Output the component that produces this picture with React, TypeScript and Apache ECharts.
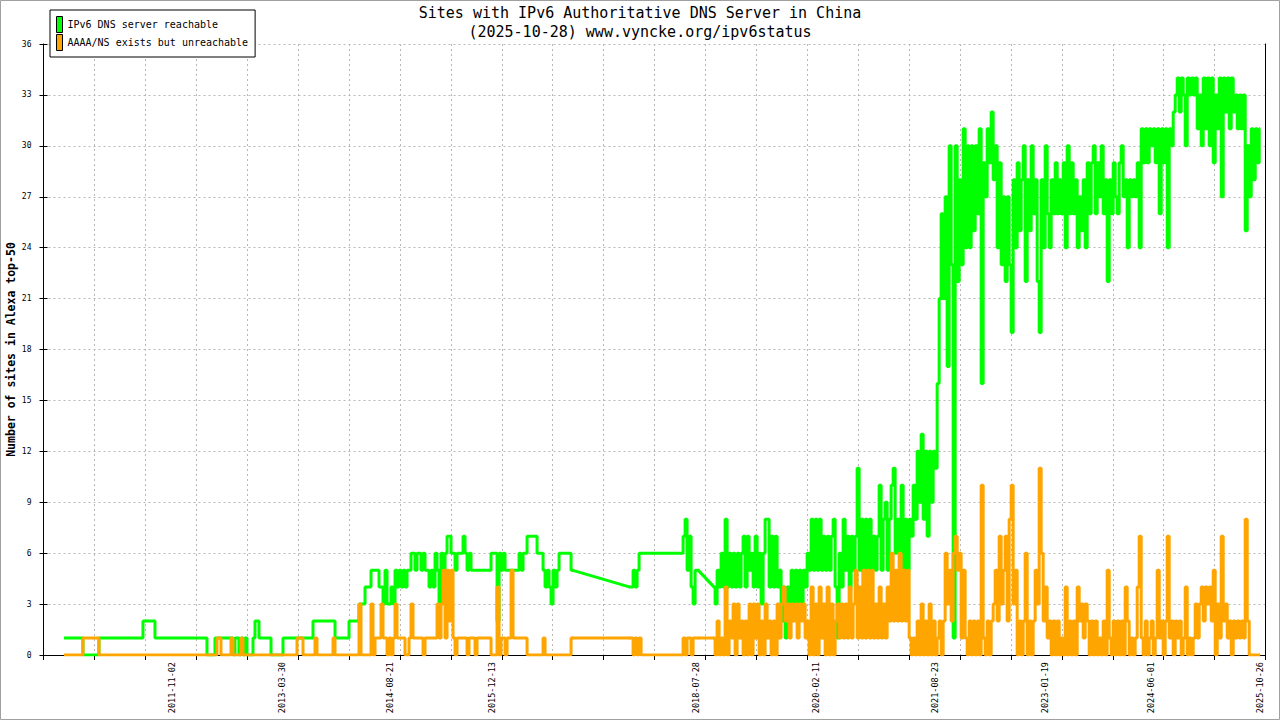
import React, { useEffect, useRef } from "react";
import * as echarts from "echarts";

const FONT = '"DejaVu Sans Mono", "Liberation Mono", monospace';
const GREEN = "#00ff00";
const ORANGE = "#ffa500";

const TITLE = "Sites with IPv6 Authoritative DNS Server in China";
const SUBTITLE = "(2025-10-28) www.vyncke.org/ipv6status";
const Y_NAME = "Number of sites in Alexa top-50";
const NAME_REACHABLE = "IPv6 DNS server reachable";
const NAME_UNREACHABLE = "AAAA/NS exists but unreachable";

// x axis is counted in days from AXIS_START
const AXIS_START = Date.UTC(2010, 2, 8);
const DAY_MS = 86400000;
const AXIS_DAYS = 5736;
const TICK_DAYS = 239; // 24 tics across the axis
const FIRST_SAMPLE_DAY = 96;
const SAMPLE_STEP_DAYS = 9.39;

const X_LABEL_DATES = [
    "2011-11-02", "2013-03-30", "2014-08-21", "2015-12-13", "2018-07-28",
    "2020-02-11", "2021-08-23", "2023-01-19", "2024-06-01", "2025-10-26",
];

const Y_MAX = 36;
const Y_STEP = 3;

// sites with a reachable IPv6 DNS server, one value per sample (null = no data)
const REACHABLE: (number | null)[] = [
    1, 1, 1, 1, 1, 1, 1, 1, 1, 1, 0, 0, 0, 0, 0, 0, 0, 0, 1, 1,
    1, 1, 1, 1, 1, 1, 1, 1, 1, 1, 1, 1, 1, 1, 1, 1, 1, 1, 1, 1,
    2, 2, 2, 2, 2, 2, 1, 1, 1, 1, 1, 1, 1, 1, 1, 1, 1, 1, 1, 1,
    1, 1, 1, 1, 1, 1, 1, 1, 1, 1, 1, 1, 0, 0, 0, 0, 1, 1, 1, 1,
    1, 1, 1, 1, 1, 0, 1, 1, 0, 1, 0, 1, 0, 0, 0, 1, 2, 2, 1, 1,
    1, 1, 1, 1, 0, 0, 0, 0, 0, 0, 1, 1, 1, 1, 1, 1, 1, 1, 1, 1,
    1, 1, 1, 1, 1, 2, 2, 2, 2, 2, 2, 2, 2, 2, 2, 2, 1, 1, 1, 1,
    1, 1, 1, 2, 2, 2, 2, 2, 3, 3, 3, 4, 4, 4, 5, 5, 5, 5, 4, 4,
    3, 5, 3, 3, 4, 3, 5, 4, 5, 4, 5, 4, 5, 5, 6, 6, 5, 6, 6, 5,
    6, 5, 5, 4, 5, 4, 6, 5, 3, 6, 5, 6, 7, 7, 6, 6, 5, 6, 6, 6,
    7, 6, 5, 6, 5, 5, 5, 5, 5, 5, 5, 5, 5, 5, 6, 6, 6, 2, 6, 5,
    6, 5, 5, 5, 5, 5, 5, 5, 6, 5, 6, 6, 7, 7, 7, 7, 7, 6, 6, 6,
    5, 4, 5, 4, 3, 5, 4, 5, 6, 6, 6, 6, 6, 6, 5, null, null, null, null, null,
    null, null, null, null, null, null, null, null, null, null, null, null, null, null, null, null, null, null, null, null,
    null, null, null, 4, 4, 5, 4, 5, 6, 6, 6, 6, 6, 6, 6, 6, 6, 6, 6, 6,
    6, 6, 6, 6, 6, 6, 6, 6, 6, 6, 7, 8, 5, 7, 4, 3, 5, 5, null, null,
    null, null, null, null, null, 4, 3, 5, 4, 6, 4, 8, 4, 6, 4, 6, 4, 6, 4, 6,
    7, 4, 7, 5, 6, 4, 7, 4, 6, 3, 6, 8, 8, 4, 7, 4, 7, 4, 5, 2,
    4, 1, 4, 3, 5, 3, 5, 3, 5, 3, 5, 4, 6, 5, 8, 5, 8, 5, 8, 5,
    7, 5, 7, 5, 7, 8, 4, 1, 6, 4, 8, 5, 7, 4, 7, 5, 7, 11, 5, 8,
    4, 8, 4, 8, 5, 7, 5, 7, 10, 5, 8, 9, 5, 8, 10, 11, 6, 8, 6, 10,
    5, 8, 5, 8, 7, 10, 8, 12, 9, 13, 8, 12, 7, 12, 9, 12, 11, 16, 21, 26,
    21, 27, 17, 30, 23, 1, 30, 22, 28, 23, 31, 24, 30, 24, 30, 25, 30, 26, 31, 16,
    29, 27, 31, 29, 32, 28, 30, 24, 29, 23, 27, 22, 27, 23, 19, 28, 24, 29, 25, 28,
    30, 22, 28, 25, 30, 26, 28, 22, 19, 28, 24, 30, 26, 24, 28, 26, 29, 26, 28, 26,
    29, 24, 30, 26, 29, 26, 28, 24, 27, 25, 28, 24, 29, 26, 29, 30, 26, 29, 27, 30,
    26, 28, 22, 28, 26, 29, 27, 26, 29, 30, 27, 28, 24, 28, 27, 28, 27, 29, 24, 31,
    29, 31, 29, 31, 30, 31, 29, 31, 26, 31, 29, 31, 24, 31, 30, 32, 33, 34, 32, 34,
    33, 30, 34, 33, 34, 33, 34, 31, 33, 30, 34, 31, 34, 30, 34, 29, 33, 31, 34, 27,
    34, 32, 34, 31, 34, 32, 33, 31, 33, 31, 33, 25, 30, 27, 31, 28, 31, 29, 31,
];

// sites with AAAA/NS records whose servers could not be reached
const UNREACHABLE: (number | null)[] = [
    0, 0, 0, 0, 0, 0, 0, 0, 0, 0, 1, 1, 1, 1, 1, 1, 1, 1, 0, 0,
    0, 0, 0, 0, 0, 0, 0, 0, 0, 0, 0, 0, 0, 0, 0, 0, 0, 0, 0, 0,
    0, 0, 0, 0, 0, 0, 0, 0, 0, 0, 0, 0, 0, 0, 0, 0, 0, 0, 0, 0,
    0, 0, 0, 0, 0, 0, 0, 0, 0, 0, 0, 0, 0, 0, 0, 0, 0, 1, 1, 0,
    0, 0, 0, 0, 1, 0, 0, 0, 0, 1, 0, 0, 0, 0, 0, 0, 0, 0, 0, 0,
    0, 0, 0, 0, 0, 0, 0, 0, 0, 0, 0, 0, 0, 0, 0, 0, 0, 1, 1, 1,
    0, 0, 0, 0, 0, 0, 1, 0, 0, 0, 0, 0, 0, 0, 0, 1, 0, 0, 0, 0,
    0, 0, 0, 0, 0, 0, 0, 0, 3, 0, 0, 0, 0, 0, 3, 0, 1, 1, 1, 3,
    1, 1, 0, 1, 0, 1, 3, 1, 1, 1, 1, 0, 0, 1, 3, 1, 1, 1, 1, 1,
    0, 1, 1, 1, 1, 1, 1, 3, 1, 3, 5, 1, 5, 2, 5, 1, 0, 1, 1, 1,
    1, 1, 0, 1, 1, 1, 0, 1, 1, 1, 1, 1, 1, 1, 0, 0, 0, 4, 0, 1,
    1, 0, 1, 1, 5, 1, 1, 1, 1, 1, 1, 1, 0, 0, 0, 0, 0, 0, 0, 0,
    1, 0, 0, 0, 0, 0, 0, 0, 0, 0, 0, 0, 0, 0, 1, null, null, null, null, null,
    null, null, null, null, null, null, null, null, null, null, null, null, null, null, null, null, null, null, null, null,
    null, null, null, 1, 1, 0, 1, 0, 1, 0, 0, 0, 0, 0, 0, 0, 0, 0, 0, 0,
    0, 0, 0, 0, 0, 0, 0, 0, 0, 0, 1, 0, 1, 1, 0, 1, 1, 1, null, null,
    null, null, null, null, null, 1, 0, 2, 0, 1, 0, 4, 0, 2, 1, 3, 0, 3, 1, 2,
    0, 2, 0, 3, 0, 3, 1, 3, 0, 2, 0, 3, 1, 2, 0, 2, 0, 3, 1, 3,
    4, 2, 3, 1, 3, 2, 3, 1, 3, 2, 3, 1, 2, 0, 4, 0, 3, 0, 4, 1,
    3, 0, 4, 0, 3, 0, 2, 3, 1, 3, 1, 3, 1, 4, 1, 3, 5, 1, 4, 1,
    5, 1, 5, 1, 5, 1, 3, 1, 4, 1, 3, 1, 4, 2, 6, 2, 5, 2, 6, 2,
    5, 2, 5, 1, 0, 1, 0, 2, 0, 3, 0, 2, 0, 3, 0, 2, 0, 1, 2, 0,
    2, 6, 3, 5, 2, 6, 7, 5, 6, 1, 5, 1, 0, 2, 0, 2, 0, 2, 0, 10,
    1, 0, 2, 0, 2, 3, 5, 2, 7, 3, 5, 7, 2, 8, 10, 3, 5, 0, 2, 0,
    2, 6, 0, 2, 0, 2, 5, 3, 11, 6, 2, 4, 1, 2, 0, 2, 0, 2, 0, 1,
    0, 4, 0, 2, 0, 2, 0, 4, 2, 3, 1, 3, 2, 0, 2, 0, 2, 0, 1, 0,
    2, 0, 5, 1, 0, 2, 0, 2, 0, 2, 0, 4, 2, 0, 1, 0, 1, 4, 7, 1,
    0, 2, 0, 1, 2, 0, 1, 5, 1, 2, 0, 2, 7, 1, 2, 0, 2, 1, 2, 0,
    1, 4, 0, 1, 0, 1, 3, 1, 3, 4, 2, 4, 3, 4, 2, 5, 0, 3, 1, 7,
    2, 3, 1, 2, 0, 2, 1, 2, 1, 2, 1, 8, 2, 0, 0, 0, 0, 0, 0,
];

const toDay = (iso: string) => (Date.parse(iso + "T00:00:00Z") - AXIS_START) / DAY_MS;
const dayToIso = (day: number) => new Date(AXIS_START + Math.round(day) * DAY_MS).toISOString().slice(0, 10);
const sampleDay = (i: number) => FIRST_SAMPLE_DAY + i * SAMPLE_STEP_DAYS;

const toPoints = (vals: (number | null)[]) =>
    vals.map((v, i) => [sampleDay(i), v == null ? "-" : v]);

// straight lines across the periods without samples, as gnuplot draws them
const gapBridges = (vals: (number | null)[]) => {
    const pts: any[] = [];
    let i = 0;
    while (i < vals.length) {
        if (vals[i] == null) {
            let j = i;
            while (j < vals.length && vals[j] == null) j++;
            if (i > 0 && j < vals.length) {
                pts.push([sampleDay(i - 1), vals[i - 1]], [sampleDay(j), vals[j]], [sampleDay(j), "-"]);
            }
            i = j;
        } else {
            i++;
        }
    }
    return pts;
};

const gridLine = { show: true, lineStyle: { color: "#b8b8b8", type: [2, 3], width: 1 } };

const makeSeries = (name: string, vals: (number | null)[], color: string, z: number) => [
    {
        name,
        type: "line",
        data: toPoints(vals),
        step: "middle",
        showSymbol: false,
        symbol: "none",
        connectNulls: false,
        color,
        lineStyle: { color, width: 3 },
        z,
    },
    {
        name,
        type: "line",
        data: gapBridges(vals),
        showSymbol: false,
        symbol: "none",
        connectNulls: false,
        color,
        lineStyle: { color, width: 3 },
        z,
    },
];

const App: React.FC = () => {
    const ref = useRef<HTMLDivElement | null>(null);

    useEffect(() => {
        if (!ref.current) return;
        const chart = echarts.init(ref.current, null, { renderer: "svg" });

        const option: any = {
            animation: false,
            backgroundColor: "#fff",
            title: {
                text: TITLE,
                subtext: SUBTITLE,
                left: "center",
                top: 5,
                padding: 0,
                itemGap: 4,
                textStyle: { fontFamily: FONT, fontSize: 15, fontWeight: "normal", color: "#000" },
                subtextStyle: { fontFamily: FONT, fontSize: 15, color: "#000" },
            },
            legend: {
                orient: "vertical",
                left: 50,
                top: 10,
                padding: [6, 7, 6, 6],
                itemWidth: 6,
                itemHeight: 16,
                itemGap: 1,
                itemTextGap: 5,
                borderColor: "#000",
                borderWidth: 1,
                backgroundColor: "#fff",
                icon: "rect",
                itemStyle: { borderColor: "#000", borderWidth: 1 },
                textStyle: { fontFamily: FONT, fontSize: 10, color: "#000" },
                data: [NAME_REACHABLE, NAME_UNREACHABLE],
            },
            grid: { left: 43.5, right: 14.5, top: 44, bottom: 65, outerBoundsMode: "none", containLabel: false },
            xAxis: {
                type: "value",
                min: 0,
                max: AXIS_DAYS,
                interval: TICK_DAYS,
                axisLine: { onZero: false, lineStyle: { color: "#000", width: 1 } },
                axisTick: { show: true, length: 5, lineStyle: { color: "#000" } },
                axisLabel: {
                    customValues: X_LABEL_DATES.map(toDay),
                    rotate: 90,
                    margin: 7,
                    fontFamily: FONT,
                    fontSize: 8.5,
                    color: "#000",
                    formatter: (v: number) => dayToIso(v),
                },
                splitLine: gridLine,
            },
            yAxis: [
                {
                    type: "value",
                    min: 0,
                    max: Y_MAX,
                    interval: Y_STEP,
                    position: "left",
                    name: Y_NAME,
                    nameLocation: "middle",
                    nameGap: 27,
                    nameMoveOverlap: false,
                    nameTextStyle: { fontFamily: FONT, fontSize: 11.5, fontWeight: "bold", color: "#000" },
                    axisLine: { show: true, lineStyle: { color: "#000", width: 1 } },
                    axisTick: { show: true, length: 4, lineStyle: { color: "#000" } },
                    axisLabel: { fontFamily: FONT, fontSize: 8, color: "#000", margin: 12 },
                    splitLine: gridLine,
                },
                {
                    type: "value",
                    min: 0,
                    max: Y_MAX,
                    position: "right",
                    axisLine: { show: true, lineStyle: { color: "#000", width: 1 } },
                    axisTick: { show: false },
                    axisLabel: { show: false },
                    splitLine: { show: false },
                },
                {
                    type: "value",
                    min: 0,
                    max: Y_MAX,
                    interval: Y_STEP,
                    position: "left",
                    axisLine: { show: false },
                    axisTick: { show: true, inside: true, length: 4, lineStyle: { color: "#000" } },
                    axisLabel: { show: false },
                    splitLine: { show: false },
                },
            ],
            graphic: [
                {
                    type: "rect",
                    silent: true,
                    shape: { x: 0.5, y: 0.5, width: 1279, height: 719 },
                    style: { fill: "none", stroke: "#a0a0a0", lineWidth: 1 },
                },
            ],
            series: [
                ...makeSeries(NAME_REACHABLE, REACHABLE, GREEN, 2),
                ...makeSeries(NAME_UNREACHABLE, UNREACHABLE, ORANGE, 3),
            ],
        };

        chart.setOption(option);

        return () => {
            chart.dispose();
        };
    }, []);

    return (
        <div
            ref={ref}
            style={{ position: "fixed", left: 0, top: 0, width: 1280, height: 720, background: "#fff" }}
        />
    );
};

export default App;
